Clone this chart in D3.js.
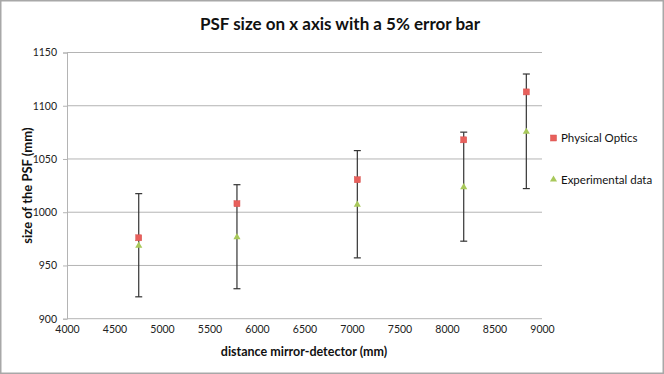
<!DOCTYPE html>
<html><head><meta charset="utf-8">
<script src="https://cdn.jsdelivr.net/npm/d3@7"></script>
<style>body{margin:0;background:#fff;} text{font-family:Lato,"Open Sans","Liberation Sans",sans-serif;}</style>
</head><body>
<svg id="c" width="664" height="374"></svg>
<script>
const distances = [4755, 5789, 7056, 8176, 8835];
const physicalOptics = [976, 1008, 1030.5, 1068, 1113];
const experimental = [969, 977, 1007.5, 1024, 1076];
const errorFraction = 0.05;
const xTicks = [4000,4500,5000,5500,6000,6500,7000,7500,8000,8500,9000];
const yTicks = [900,950,1000,1050,1100,1150];
const seriesNames = ["Physical Optics", "Experimental data"];

const svg = d3.select("#c");
svg.append("rect").attr("x",0.75).attr("y",0.75).attr("width",662.5).attr("height",372.5)
  .attr("fill","#fff").attr("stroke","#a8a8a8").attr("stroke-width",1.5);

const L=67,R=542,T=52.5,B=318.7;
const x=d3.scaleLinear().domain([4000,9000]).range([L,R]);
const y=d3.scaleLinear().domain([900,1150]).range([B,T]);

svg.append("g").selectAll("line").data(yTicks).join("line")
  .attr("x1",L).attr("x2",R).attr("y1",d=>y(d)).attr("y2",d=>y(d))
  .attr("stroke","#b4b4b4").attr("stroke-width",1);

const ya=svg.append("g").attr("transform",`translate(${L},0)`)
  .call(d3.axisLeft(y).tickValues(yTicks).tickSize(4).tickPadding(6).tickFormat(d3.format("d")));
ya.select(".domain").attr("stroke","#b4b4b4");
ya.selectAll(".tick line").attr("stroke","#b4b4b4");
ya.selectAll("text").attr("font-size",10.5).attr("fill","#222");

const xa=svg.append("g").attr("transform",`translate(0,${B})`)
  .call(d3.axisBottom(x).tickValues(xTicks).tickSize(0).tickPadding(7).tickFormat(d3.format("d")));
xa.select(".domain").remove();
xa.selectAll("text").attr("font-size",10.5).attr("fill","#222");

const eb=svg.append("g");
experimental.forEach((v,i)=>{
  const e=v*errorFraction, cx=x(distances[i]);
  eb.append("line").attr("x1",cx).attr("x2",cx).attr("y1",y(v+e)).attr("y2",y(v-e)).attr("stroke","#333").attr("stroke-width",1.2);
  [v+e,v-e].forEach(w=>eb.append("line").attr("x1",cx-3.5).attr("x2",cx+3.5).attr("y1",y(w)).attr("y2",y(w)).attr("stroke","#333").attr("stroke-width",1.2));
});

const red="#e8605c", green="#a8c85a";
const tri=d3.symbol().type(d3.symbolTriangle).size(22);
svg.append("g").selectAll("path").data(experimental).join("path")
  .attr("d",tri).attr("transform",(d,i)=>`translate(${x(distances[i])},${y(d)+0.5})`)
  .attr("fill",green);
svg.append("g").selectAll("rect").data(physicalOptics).join("rect")
  .attr("x",(d,i)=>x(distances[i])-3).attr("y",d=>y(d)-3).attr("width",6).attr("height",6)
  .attr("fill",red).attr("stroke","#d8524f").attr("stroke-width",0.5);

const lg=svg.append("g");
lg.append("rect").attr("x",550.5).attr("y",135).attr("width",6).attr("height",6).attr("fill",red).attr("stroke","#d8524f").attr("stroke-width",0.5);
lg.append("path").attr("d",tri).attr("transform","translate(553.5,179.5)").attr("fill",green);
lg.append("text").attr("x",561).attr("y",142).attr("font-size",11.5).attr("fill","#111").text(seriesNames[0]);
lg.append("text").attr("x",561).attr("y",184).attr("font-size",11.5).attr("fill","#111").text(seriesNames[1]);

svg.append("text").attr("x",340).attr("y",30).attr("text-anchor","middle").attr("font-size",17).attr("font-weight","bold").attr("fill","#111").text("PSF size on x axis with a 5% error bar");
svg.append("text").attr("x",304).attr("y",356).attr("text-anchor","middle").attr("font-size",12.5).attr("font-weight","bold").attr("fill","#111").text("distance mirror-detector (mm)");
svg.append("text").attr("transform",`translate(32,${(T+B)/2}) rotate(-90)`).attr("text-anchor","middle").attr("font-size",13).attr("font-weight","bold").attr("fill","#111").text("size of the PSF (mm)");
</script>
</body></html>
